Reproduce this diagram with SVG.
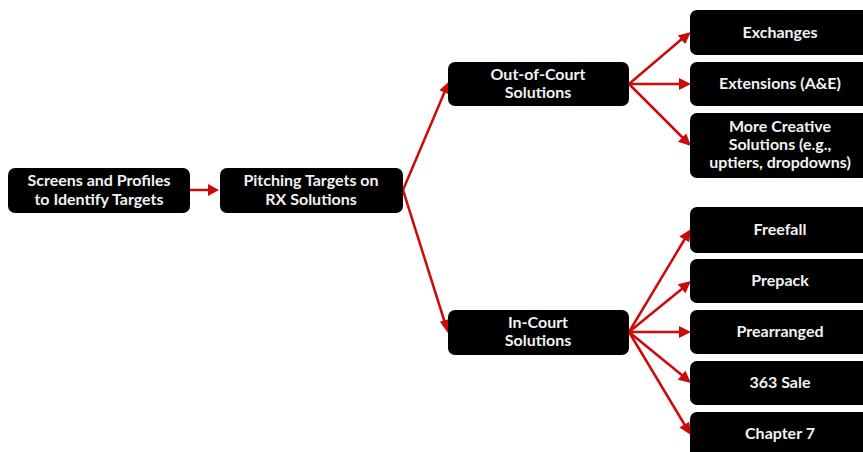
<svg xmlns="http://www.w3.org/2000/svg" width="863" height="452" viewBox="0 0 863 452">
<defs>
<style>
.box{fill:#000;stroke:none}
.t{fill:#f2f2f2;font-family:Lato,"Open Sans","Liberation Sans",sans-serif;font-weight:bold;font-size:16px;text-anchor:middle}
.c{stroke:#cc0a0a;stroke-width:2.5;fill:none}
.h{fill:#cc0a0a}
</style>
</defs>
<rect width="863" height="452" fill="#fff"/>
<g id="connectors">
<line class="c" x1="190" y1="190" x2="210" y2="190"/>
<path class="h" d="M208,184 L219,190 L208,196 z"/>
<line class="c" x1="403" y1="190" x2="445" y2="91"/>
<path class="h" d="M449.5,81 L449.9,94.7 L439.4,90.2 z"/>
<line class="c" x1="403" y1="190" x2="445" y2="323"/>
<path class="h" d="M448,333 L439.9,321.8 L450.8,318.4 z"/>
<line class="c" x1="629" y1="84" x2="683" y2="38"/>
<path class="h" d="M691,32 L685.2,44.1 L677.8,35.4 z"/>
<line class="c" x1="629" y1="84" x2="681" y2="84"/>
<path class="h" d="M691,84 L679,78 L679,90 z"/>
<line class="c" x1="629" y1="84" x2="683" y2="138"/>
<path class="h" d="M691,146 L678.0,141.7 L686.2,133.6 z"/>
<line class="c" x1="629" y1="332" x2="686" y2="237"/>
<path class="h" d="M691,229 L689.3,242.2 L679.4,236.4 z"/>
<line class="c" x1="629" y1="332" x2="683" y2="288"/>
<path class="h" d="M691,281 L685.4,293.3 L677.8,284.2 z"/>
<line class="c" x1="629" y1="332" x2="681" y2="332"/>
<path class="h" d="M691,332 L679,326 L679,338 z"/>
<line class="c" x1="629" y1="332" x2="683" y2="376"/>
<path class="h" d="M691,383 L677.8,379.8 L685.4,370.7 z"/>
<line class="c" x1="629" y1="332" x2="686" y2="427"/>
<path class="h" d="M691,435 L679.4,427.6 L689.3,421.8 z"/>
</g>
<g id="n-screens">
<rect class="box" x="8" y="168" width="182" height="45" rx="7"/>
<text class="t" x="99" y="186">Screens and Profiles</text>
<text class="t" x="99" y="205">to Identify Targets</text>
</g>
<g id="n-pitching">
<rect class="box" x="220" y="168" width="183" height="45" rx="7"/>
<text class="t" x="311" y="186">Pitching Targets on</text>
<text class="t" x="311" y="205">RX Solutions</text>
</g>
<g id="n-outcourt">
<rect class="box" x="448" y="62" width="181" height="44" rx="7"/>
<text class="t" x="538" y="80">Out-of-Court</text>
<text class="t" x="538" y="98">Solutions</text>
</g>
<g id="n-incourt">
<rect class="box" x="448" y="310" width="181" height="45" rx="7"/>
<text class="t" x="538" y="328">In-Court</text>
<text class="t" x="538" y="346">Solutions</text>
</g>
<g id="n-exchanges">
<rect class="box" x="690" y="10" width="185" height="45" rx="7"/>
<text class="t" x="780" y="38">Exchanges</text>
</g>
<g id="n-extensions">
<rect class="box" x="690" y="62" width="185" height="44" rx="7"/>
<text class="t" x="780" y="89">Extensions (A&amp;E)</text>
</g>
<g id="n-creative">
<rect class="box" x="690" y="113" width="185" height="65" rx="7"/>
<text class="t" x="780" y="132">More Creative</text>
<text class="t" x="780" y="150">Solutions (e.g.,</text>
<text class="t" x="780" y="168">uptiers, dropdowns)</text>
</g>
<g id="n-freefall">
<rect class="box" x="690" y="207" width="185" height="46" rx="7"/>
<text class="t" x="780" y="235">Freefall</text>
</g>
<g id="n-prepack">
<rect class="box" x="690" y="259" width="185" height="44" rx="7"/>
<text class="t" x="780" y="286">Prepack</text>
</g>
<g id="n-prearranged">
<rect class="box" x="690" y="310" width="185" height="44" rx="7"/>
<text class="t" x="780" y="337">Prearranged</text>
</g>
<g id="n-363">
<rect class="box" x="690" y="361" width="185" height="44" rx="7"/>
<text class="t" x="780" y="388">363 Sale</text>
</g>
<g id="n-ch7">
<rect class="box" x="690" y="412" width="185" height="46" rx="7"/>
<text class="t" x="780" y="439">Chapter 7</text>
</g>
</svg>
